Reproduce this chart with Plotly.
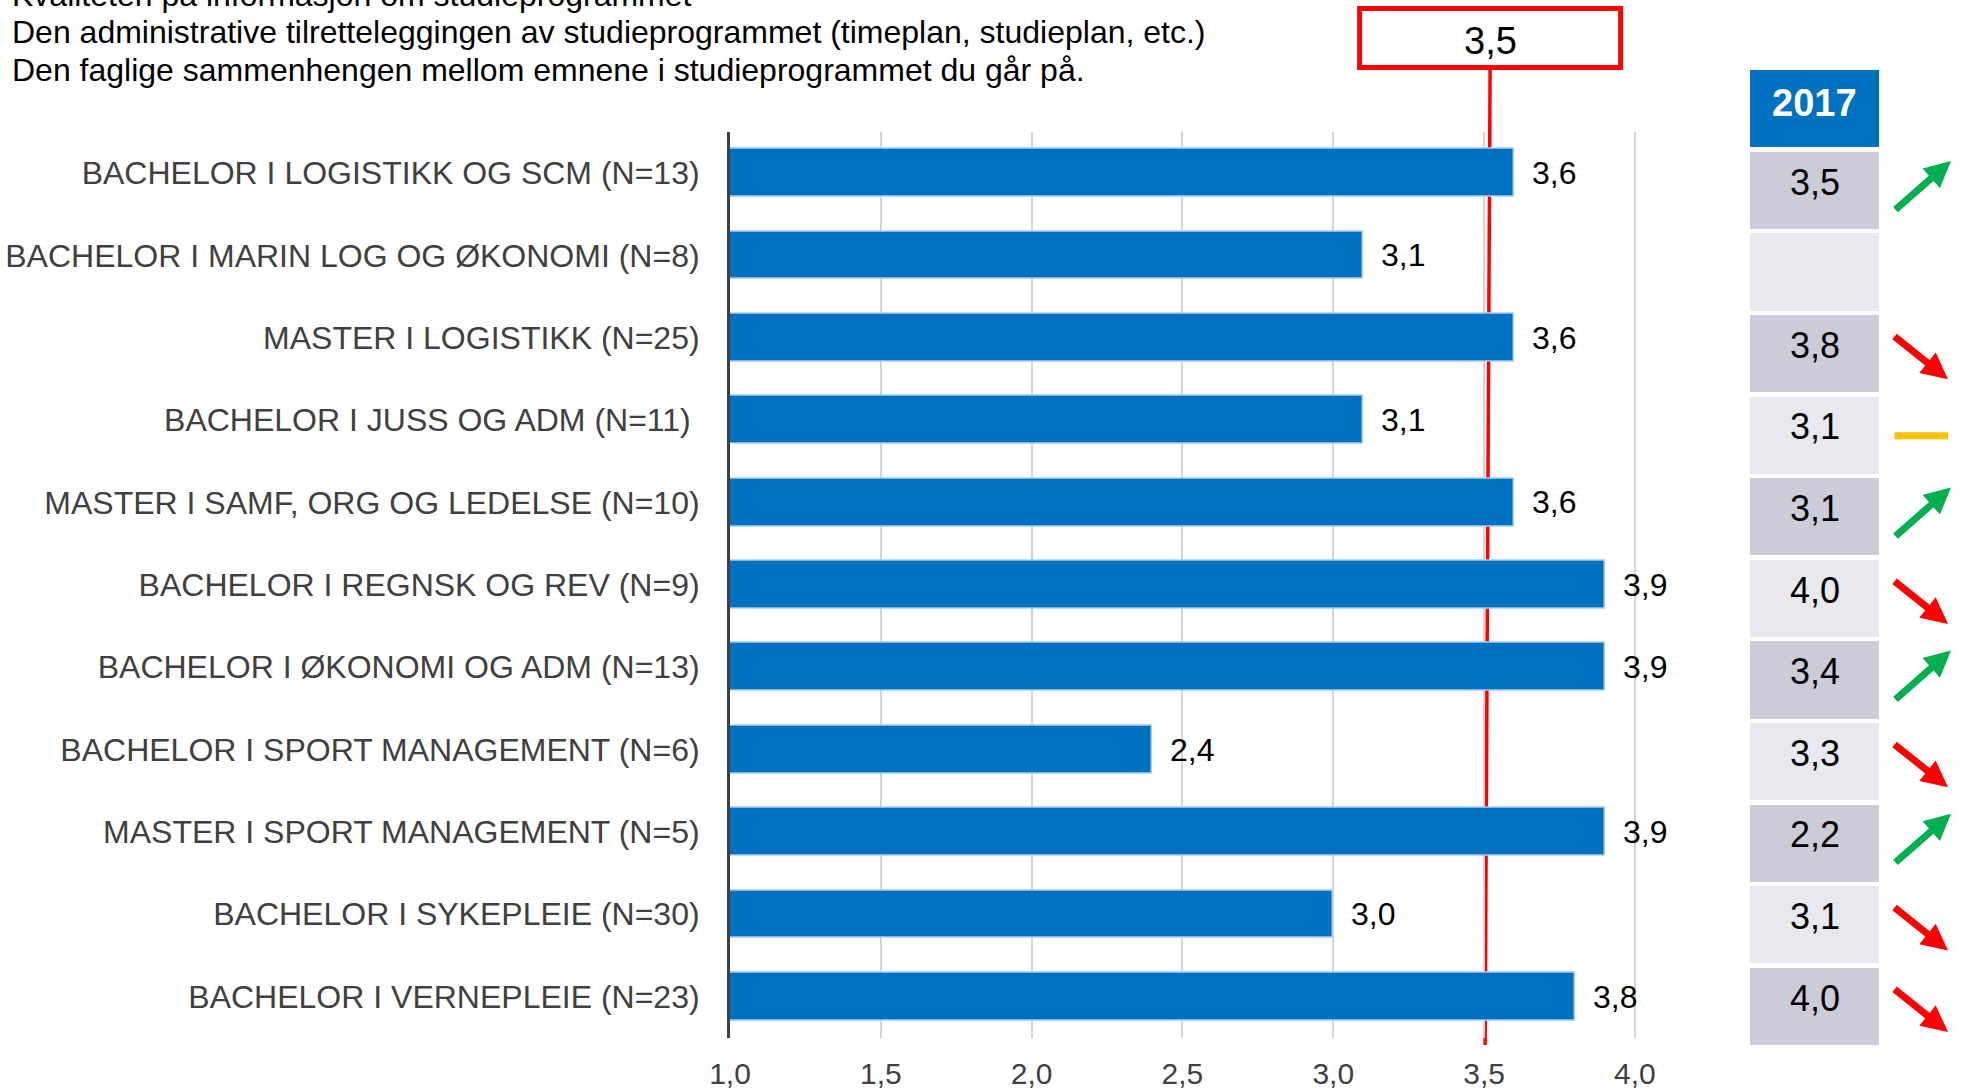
import plotly.graph_objects as go

W, H = 1983, 1091

# ---------------- data ----------------
programs = [
    "BACHELOR I LOGISTIKK OG SCM (N=13)",
    "BACHELOR I MARIN LOG OG ØKONOMI (N=8)",
    "MASTER I LOGISTIKK (N=25)",
    "BACHELOR I JUSS OG ADM (N=11)\u00a0",
    "MASTER I SAMF, ORG OG LEDELSE (N=10)",
    "BACHELOR I REGNSK OG REV (N=9)",
    "BACHELOR I ØKONOMI OG ADM (N=13)",
    "BACHELOR I SPORT MANAGEMENT (N=6)",
    "MASTER I SPORT MANAGEMENT (N=5)",
    "BACHELOR I SYKEPLEIE (N=30)",
    "BACHELOR I VERNEPLEIE (N=23)",
]
scores = [3.6, 3.1, 3.6, 3.1, 3.6, 3.9, 3.9, 2.4, 3.9, 3.0, 3.8]
scores_2017 = [3.5, None, 3.8, 3.1, 3.1, 4.0, 3.4, 3.3, 2.2, 3.1, 4.0]
average = 3.5
x_ticks = [1.0, 1.5, 2.0, 2.5, 3.0, 3.5, 4.0]
year_label = "2017"
title_lines = [
    "Kvaliteten på informasjon om studieprogrammet",
    "Den administrative tilretteleggingen av studieprogrammet (timeplan, studieplan, etc.)",
    "Den faglige sammenhengen mellom emnene i studieprogrammet du går på.",
]

# ---------------- helpers ----------------
def px_x(p):
    return p / W

def px_y(p):
    return 1 - p / H

def fmt(v):
    return "" if v is None else f"{v:.1f}".replace(".", ",")

FONT = "Liberation Sans, Arial, sans-serif"
BLUE = "#0070C0"

fig = go.Figure()

# main bars
fig.add_trace(go.Bar(
    x=scores, y=programs, orientation="h",
    width=0.58,
    marker=dict(color=BLUE, line=dict(color="#A9CCEB", width=1.5)),
    cliponaxis=False, hoverinfo="skip",
    xaxis="x", yaxis="y", showlegend=False,
))

# 2017 header cell
fig.add_trace(go.Bar(
    x=[1], y=[-1], base=0, orientation="h", width=0.944,
    marker=dict(color=BLUE, line=dict(width=0)),
    hoverinfo="skip", xaxis="x2", yaxis="y2", showlegend=False,
))

# 2017 value cells
cell_colors = ["#CCCCD9" if i % 2 == 0 else "#E8E8EE" for i in range(len(programs))]
fig.add_trace(go.Bar(
    x=[1] * len(programs), y=list(range(len(programs))), base=0,
    orientation="h", width=0.944,
    marker=dict(color=cell_colors, line=dict(width=0)),
    hoverinfo="skip", xaxis="x2", yaxis="y2", showlegend=False,
))

shapes = []
annotations = []

# table texts
annotations.append(dict(
    text=f"<b>{year_label}</b>", xref="x2", x=0.5, yref="y2", y=-1,
    yanchor="middle", yshift=5, showarrow=False,
    font=dict(size=38, color="white", family=FONT),
))
for i, v in enumerate(scores_2017):
    if v is None:
        continue
    annotations.append(dict(
        text=fmt(v), xref="x2", x=0.5, yref="y2", y=i,
        yanchor="middle", yshift=8, showarrow=False,
        font=dict(size=36, color="black", family=FONT),
    ))

# value labels next to the bars
for p, v in zip(programs, scores):
    annotations.append(dict(
        text=fmt(v), xref="x", x=v, xanchor="left", xshift=16,
        yref="y", y=p, yanchor="middle", showarrow=False,
        font=dict(size=32, color="black", family=FONT),
    ))

# average line (slightly slanted as in the reference), behind the bars
shapes.append(dict(
    type="line", xref="x", xsizemode="pixel", xanchor=average,
    x0=1, x1=6, yref="paper", y0=px_y(1045), y1=px_y(68),
    line=dict(color="#FF0000", width=3.5), layer="below",
))
# average box
shapes.append(dict(
    type="rect", xref="x", xsizemode="pixel", xanchor=average,
    x0=-124.5, x1=136.5, yref="paper", y0=px_y(67.5), y1=px_y(8.5),
    line=dict(color="#FF0000", width=5), fillcolor="white", layer="above",
))
annotations.append(dict(
    text=fmt(average), xref="x", x=average, xshift=6,
    yref="paper", y=px_y(41), yanchor="middle", showarrow=False,
    font=dict(size=38, color="black", family=FONT),
))

# title lines
for txt, ypx in zip(title_lines, [-5, 32, 70]):
    annotations.append(dict(
        text=txt, xref="paper", x=px_x(10), xanchor="left",
        yref="paper", y=px_y(ypx), yanchor="middle", showarrow=False,
        font=dict(size=32, color="black", family=FONT),
    ))

# trend arrows
for i, (cur, prev) in enumerate(zip(scores, scores_2017)):
    if prev is None:
        continue
    if cur > prev:
        a = dict(x=px_x(1951), ax=-57, ay=50, yshift=29, arrowcolor="#00B050", arrowhead=2)
    elif cur < prev:
        a = dict(x=px_x(1948), ax=-55, ay=-44, yshift=-26, arrowcolor="#FF0000", arrowhead=2)
    else:
        a = dict(x=px_x(1948), ax=-55, ay=0, yshift=-1, arrowcolor="#FFC000", arrowhead=0)
    annotations.append(dict(
        text="", xref="paper", yref="y2", y=i, showarrow=True,
        arrowwidth=7, arrowsize=0.75, axref="pixel", ayref="pixel", **a,
    ))

fig.update_layout(
    width=W, height=H,
    margin=dict(l=0, r=0, t=0, b=0, pad=0),
    paper_bgcolor="white", plot_bgcolor="white",
    separators=", ",
    font=dict(family=FONT),
    bargap=0,
    showlegend=False,
    xaxis=dict(
        domain=[px_x(730), px_x(1650)], range=[1, 4.05],
        tickvals=x_ticks, tickformat=".1f",
        showgrid=True, gridcolor="#D4D4D4", gridwidth=1.5,
        zeroline=False, showline=False, ticks="",
        tickfont=dict(size=30, color="#404040", family=FONT),
        ticklabelstandoff=15, automargin=False, fixedrange=True,
    ),
    yaxis=dict(
        domain=[px_y(1037.8), px_y(131.8)],
        type="category", categoryorder="array", categoryarray=programs,
        autorange="reversed",
        showline=True, linecolor="#404040", linewidth=3,
        showgrid=False, zeroline=False, ticks="",
        tickfont=dict(size=32, color="#404040", family=FONT),
        ticklabelstandoff=21, automargin=False, fixedrange=True,
    ),
    xaxis2=dict(domain=[px_x(1750), px_x(1879)], range=[0, 1],
                visible=False, anchor="y2", fixedrange=True, automargin=False),
    yaxis2=dict(domain=[px_y(1046.8), px_y(67.6)], range=[10.5, -1.5],
                visible=False, anchor="x2", fixedrange=True, automargin=False),
    shapes=shapes,
    annotations=annotations,
)

fig.write_html(
    "out.html",
    config={"displayModeBar": False},
    post_script="document.body.style.margin='0';document.body.style.overflow='hidden';",
)
